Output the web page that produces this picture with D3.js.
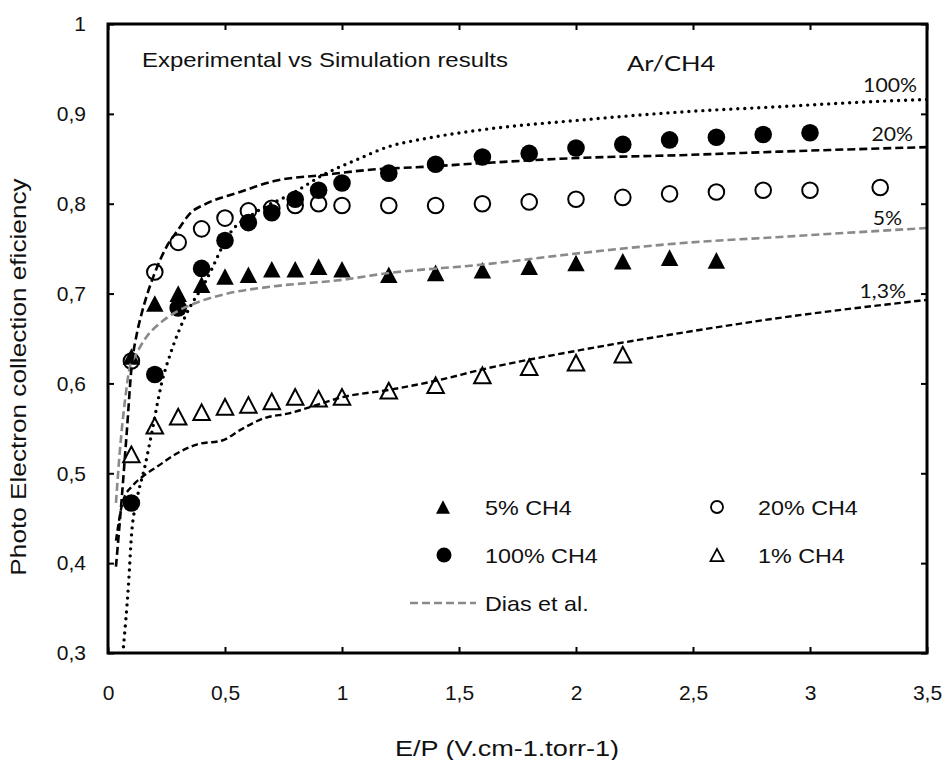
<!DOCTYPE html>
<html>
<head>
<meta charset="utf-8">
<script src="https://cdn.jsdelivr.net/npm/d3@7"></script>
<style>
  html, body { margin: 0; padding: 0; background: #fff; }
  svg { display: block; }
  .arial { font-family: "Liberation Sans", Arial, sans-serif; }
  .cal { font-family: Lato, "Open Sans", sans-serif; }
</style>
</head>
<body>
<svg id="chart" width="945" height="760"></svg>
<script>
// ---------- data ----------
const xTicks = [0, 0.5, 1, 1.5, 2, 2.5, 3, 3.5];
const yTicks = [0.3, 0.4, 0.5, 0.6, 0.7, 0.8, 0.9, 1];

// experimental series
const exp5X   = [0.1,0.2,0.3,0.4,0.5,0.6,0.7,0.8,0.9,1.0,1.2,1.4,1.6,1.8,2.0,2.2,2.4,2.6];
const exp5Y   = [0.630,0.689,0.700,0.710,0.719,0.721,0.727,0.727,0.730,0.727,0.721,0.723,0.726,0.730,0.734,0.736,0.740,0.737];

const exp20X  = [0.1,0.2,0.3,0.4,0.5,0.6,0.7,0.8,0.9,1.0,1.2,1.4,1.6,1.8,2.0,2.2,2.4,2.6,2.8,3.0,3.3];
const exp20Y  = [0.625,0.724,0.757,0.772,0.784,0.792,0.795,0.798,0.800,0.798,0.798,0.798,0.800,0.802,0.805,0.807,0.811,0.813,0.815,0.815,0.818];

const exp100X = [0.1,0.2,0.3,0.4,0.5,0.6,0.7,0.8,0.9,1.0,1.2,1.4,1.6,1.8,2.0,2.2,2.4,2.6,2.8,3.0];
const exp100Y = [0.467,0.610,0.684,0.728,0.759,0.779,0.790,0.805,0.815,0.823,0.834,0.844,0.852,0.856,0.862,0.866,0.871,0.874,0.877,0.879];

const exp1X   = [0.1,0.2,0.3,0.4,0.5,0.6,0.7,0.8,0.9,1.0,1.2,1.4,1.6,1.8,2.0,2.2];
const exp1Y   = [0.521,0.553,0.563,0.568,0.574,0.576,0.580,0.585,0.583,0.585,0.592,0.598,0.609,0.618,0.623,0.632];

// simulation curves
const sim100X = [0.066,0.087,0.101,0.123,0.158,0.187,0.229,0.272,0.329,0.42,0.521,0.635,0.792,0.919,1.063,1.205,1.346,1.59,2.017,2.444,2.872,3.30,3.5];
const sim100Y = [0.307,0.374,0.433,0.470,0.508,0.545,0.600,0.637,0.674,0.715,0.767,0.791,0.812,0.832,0.849,0.864,0.872,0.882,0.893,0.902,0.908,0.914,0.916];

const sim20X  = [0.034,0.058,0.08,0.101,0.123,0.144,0.165,0.2,0.25,0.30,0.35,0.42,0.564,0.706,0.92,1.13,1.346,1.59,2.017,2.444,2.872,3.5];
const sim20Y  = [0.396,0.470,0.545,0.619,0.655,0.678,0.697,0.723,0.752,0.771,0.789,0.800,0.813,0.825,0.832,0.838,0.841,0.845,0.851,0.854,0.858,0.863];

const dias5X  = [0.034,0.051,0.073,0.094,0.115,0.165,0.222,0.294,0.35,0.493,0.706,0.991,1.205,1.59,2.017,2.444,2.872,3.5];
const dias5Y  = [0.467,0.526,0.582,0.619,0.630,0.652,0.667,0.680,0.687,0.699,0.708,0.715,0.723,0.732,0.745,0.756,0.763,0.773];

const sim13X  = [0.034,0.065,0.108,0.151,0.208,0.294,0.379,0.493,0.564,0.664,0.778,0.892,0.991,1.205,1.419,1.59,2.017,2.444,2.872,3.5];
const sim13Y  = [0.425,0.470,0.487,0.497,0.507,0.522,0.532,0.537,0.548,0.561,0.567,0.576,0.584,0.593,0.604,0.615,0.637,0.656,0.673,0.693];

const curveLabels = ["100%", "20%", "5%", "1,3%"];
const legendLabels = ["5% CH4", "100% CH4", "Dias et al.", "20% CH4", "1% CH4"];
const titleText = "Experimental vs Simulation results";
const gasText = "Ar/CH4";
const xTitle = "E/P (V.cm-1.torr-1)";
const yTitle = "Photo Electron collection eficiency";

// ---------- chart ----------
const svg = d3.select("#chart");
const L = 108, R = 927, T = 24, B = 653;
const x = d3.scaleLinear().domain([0, 3.5]).range([L, R]);
const y = d3.scaleLinear().domain([0.3, 1]).range([B, T]);
const fmt = d => String(d).replace(".", ",");
const zip = (xs, ys) => xs.map((v, i) => [v, ys[i]]);

// horizontally widen text glyphs (reference text is slightly stretched)
function stretch(sel, k) {
  sel.each(function () {
    const w = this.getComputedTextLength();
    if (w > 0) d3.select(this).attr("textLength", w * k).attr("lengthAdjust", "spacingAndGlyphs");
  });
  return sel;
}

// clip
svg.append("clipPath").attr("id", "clip").append("rect")
  .attr("x", L).attr("y", T).attr("width", R - L).attr("height", B - T);

// axes
const gB = svg.append("g").attr("transform", `translate(0,${B})`)
  .call(d3.axisBottom(x).tickValues(xTicks).tickFormat(fmt).tickSize(-6).tickPadding(32));
const gL = svg.append("g").attr("transform", `translate(${L},0)`)
  .call(d3.axisLeft(y).tickValues(yTicks).tickFormat(fmt).tickSize(-6).tickPadding(22));
const gT = svg.append("g").attr("transform", `translate(0,${T})`)
  .call(d3.axisTop(x).tickValues(xTicks).tickFormat("").tickSize(-6));
const gR = svg.append("g").attr("transform", `translate(${R},0)`)
  .call(d3.axisRight(y).tickValues(yTicks).tickFormat("").tickSize(-6));
[gB, gL, gT, gR].forEach(g => {
  g.select(".domain").remove();
  g.selectAll(".tick line").attr("stroke", "#000").attr("stroke-width", 2);
  g.selectAll(".tick text").attr("class", "arial").attr("font-size", 21).attr("fill", "#111");
});

const line = d3.line().x(d => x(d[0])).y(d => y(d[1])).curve(d3.curveMonotoneX);
const plot = svg.append("g").attr("clip-path", "url(#clip)");

// markers
function triPath(cx, cy, s) {
  const p = d3.path();
  const h = s * 0.95;
  p.moveTo(cx, cy - h / 2);
  p.lineTo(cx - s / 2, cy + h / 2);
  p.lineTo(cx + s / 2, cy + h / 2);
  p.closePath();
  return p.toString();
}

plot.selectAll(".o20").data(zip(exp20X, exp20Y)).join("circle")
  .attr("cx", d => x(d[0])).attr("cy", d => y(d[1])).attr("r", 7.8)
  .attr("fill", "none").attr("stroke", "#000").attr("stroke-width", 2);
plot.selectAll(".t1").data(zip(exp1X, exp1Y)).join("path")
  .attr("d", d => triPath(x(d[0]), y(d[1]), 16.5))
  .attr("fill", "none").attr("stroke", "#000").attr("stroke-width", 2).attr("stroke-linejoin", "miter");
plot.selectAll(".f100").data(zip(exp100X, exp100Y)).join("circle")
  .attr("cx", d => x(d[0])).attr("cy", d => y(d[1])).attr("r", 8.8).attr("fill", "#000");
plot.selectAll(".t5").data(zip(exp5X, exp5Y)).join("path")
  .attr("d", d => triPath(x(d[0]), y(d[1]), 17.5)).attr("fill", "#000");

// curves
plot.append("path").datum(zip(dias5X, dias5Y)).attr("d", line)
  .attr("fill", "none").attr("stroke", "#8a8a8a").attr("stroke-width", 2.6).attr("stroke-dasharray", "8,4");
plot.append("path").datum(zip(sim13X, sim13Y)).attr("d", line)
  .attr("fill", "none").attr("stroke", "#000").attr("stroke-width", 2.4).attr("stroke-dasharray", "6.5,3.5");
plot.append("path").datum(zip(sim20X, sim20Y)).attr("d", line)
  .attr("fill", "none").attr("stroke", "#000").attr("stroke-width", 2.6).attr("stroke-dasharray", "8,4");
plot.append("path").datum(zip(sim100X, sim100Y)).attr("d", line)
  .attr("fill", "none").attr("stroke", "#000").attr("stroke-width", 3.4)
  .attr("stroke-linecap", "round").attr("stroke-dasharray", "0,7");

// frame
svg.append("rect").attr("x", L).attr("y", T).attr("width", R - L).attr("height", B - T)
  .attr("fill", "none").attr("stroke", "#000").attr("stroke-width", 3);

// titles
stretch(svg.append("text").attr("class", "arial").attr("x", 142).attr("y", 67)
  .attr("font-size", 21).attr("fill", "#111").text(titleText), 1.14);
stretch(svg.append("text").attr("class", "cal").attr("x", 627).attr("y", 71)
  .attr("font-size", 21).attr("fill", "#111").text(gasText), 1.22);
stretch(svg.append("text").attr("class", "arial").attr("x", 507).attr("y", 756)
  .attr("text-anchor", "middle").attr("font-size", 22).attr("fill", "#111").text(xTitle), 1.23);
stretch(svg.append("text").attr("class", "arial")
  .attr("transform", "translate(26,377) rotate(-90)")
  .attr("text-anchor", "middle").attr("font-size", 22).attr("fill", "#111").text(yTitle), 1.19);

// curve labels
const clPos = [[917, 92], [913, 141], [902, 225], [906, 298]];
curveLabels.forEach((t, i) => {
  stretch(svg.append("text").attr("class", "cal").attr("x", clPos[i][0]).attr("y", clPos[i][1])
    .attr("text-anchor", "end").attr("font-size", 20).attr("fill", "#111").text(t), 1.06);
});

// legend
const lg = svg.append("g");
const ly = [507, 555, 603];
lg.append("path").attr("d", triPath(443, ly[0], 14)).attr("fill", "#000");
lg.append("circle").attr("cx", 444).attr("cy", ly[1]).attr("r", 7.5).attr("fill", "#000");
lg.append("line").attr("x1", 410).attr("x2", 476).attr("y1", ly[2]).attr("y2", ly[2])
  .attr("stroke", "#8a8a8a").attr("stroke-width", 2.6).attr("stroke-dasharray", "8,4");
lg.append("circle").attr("cx", 717).attr("cy", ly[0]).attr("r", 6)
  .attr("fill", "none").attr("stroke", "#000").attr("stroke-width", 1.8);
lg.append("path").attr("d", triPath(717, ly[1], 13)).attr("fill", "none")
  .attr("stroke", "#000").attr("stroke-width", 1.8);
const lt = [[485, ly[0]], [485, ly[1]], [485, ly[2]], [758, ly[0]], [758, ly[1]]];
legendLabels.forEach((t, i) => {
  stretch(lg.append("text").attr("class", "arial").attr("x", lt[i][0]).attr("y", lt[i][1] + 8)
    .attr("font-size", 21).attr("fill", "#111").text(t), 1.11);
});
</script>
</body>
</html>
